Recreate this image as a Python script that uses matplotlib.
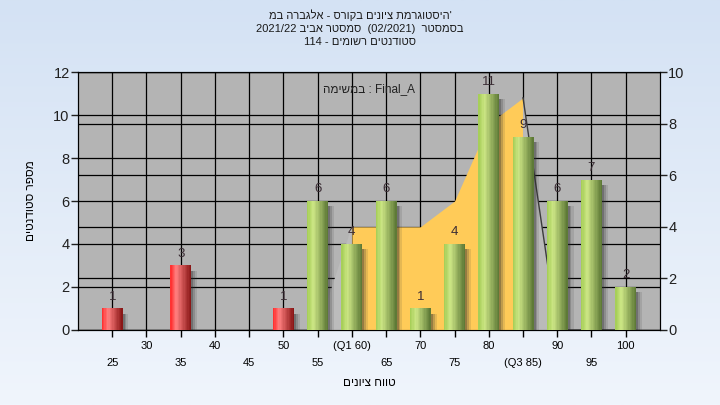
import matplotlib
matplotlib.use("Agg")
import matplotlib.pyplot as plt
import numpy as np

plt.rcParams['font.family'] = ['Liberation Sans', 'DejaVu Sans']

# grade bins and number of students in each
grades = [25, 30, 35, 40, 45, 50, 55, 60, 65, 70, 75, 80, 85, 90, 95, 100]
counts = [1, 0, 3, 0, 0, 1, 6, 4, 6, 1, 4, 11, 9, 6, 7, 2]
tick_names = ['25', '30', '35', '40', '45', '50', '55', '(Q1 60)', '65', '70',
              '75', '80', '(Q3 85)', '90', '95', '100']
pass_grade = 55

# inter-quartile area (right axis)
iqr_grades = [60, 65, 70, 75, 80, 85]
iqr_vals = [4, 4, 4, 5, 8, 9]
iqr_before = 55
iqr_after = 90
iqr_end = 100


def rev(s):
    # matplotlib has no bidi, so hebrew is written in visual order
    return s[::-1]


title1 = rev("היסטוגרמת ציונים בקורס - אלגברה במ") + "'"
title2 = "2021/22 " + rev("סמסטר אביב") + "  (02/2021)  " + rev("בסמסטר")
title3 = "114 - " + rev("סטודנטים רשומים")
legend_txt = rev("במשימה") + " : Final_A"
ylabel = rev("מספר סטודנטים")
xlabel = rev("טווח ציונים")

fig = plt.figure(figsize=(7.2, 4.05), dpi=100)

# light blue gradient background
bg = fig.add_axes([0, 0, 1, 1], zorder=-10)
grad = np.linspace(0, 1, 256).reshape(-1, 1)
top_c = np.array([212, 226, 244]) / 255
bot_c = np.array([240, 245, 252]) / 255
img = top_c[None, None, :] * (1 - grad[:, :, None]) + bot_c[None, None, :] * grad[:, :, None]
bg.imshow(img, aspect='auto', extent=[0, 1, 0, 1])
bg.axis('off')

ax = fig.add_axes([0.1083, 0.1852, 0.8083, 0.637])
ax.set_facecolor('#b4b4b4')
ax.set_xlim(0, 17)
ax.set_ylim(0, 12)
ax.set_yticks(range(0, 13, 2))
ax.set_axisbelow(True)
ax.grid(True, color='black', linewidth=0.9)
pos = {g: i + 1 for i, g in enumerate(grades)}
ax.set_xticks(list(pos.values()))
ax.set_xticklabels([n if i % 2 else '\n' + n for i, n in enumerate(tick_names)],
                   fontsize=8, linespacing=1.9)
ax.tick_params(axis='x', length=5, width=1, color='black', pad=3)
ax.tick_params(axis='y', length=5, width=1, labelsize=10.5, pad=1, colors='#202020')
for s in ax.spines.values():
    s.set_color('black')
ax.set_ylabel(ylabel, fontsize=8.5, labelpad=12)
ax.set_xlabel(xlabel, fontsize=8.5, labelpad=6)

ax2 = ax.twinx()
ax2.set_ylim(0, 10)
ax2.set_yticks(range(0, 11, 2))
ax2.tick_params(axis='y', length=5, width=1, labelsize=10.5, pad=1, colors='#202020')
ax2.set_axisbelow(True)
ax2.yaxis.grid(True, color='black', linewidth=0.9)
ax2.set_xlim(0, 17)

# inter-quartile area
xs = [pos[g] for g in iqr_grades]
ax2.fill_between(xs, 0, iqr_vals, color='#ffcb58', linewidth=0, zorder=1)
ax2.fill([pos[iqr_before], xs[0], xs[0]], [0, iqr_vals[0], 0],
         color='#bcbcbc', linewidth=0, zorder=1)
ax2.fill([xs[-1], xs[-1], pos[iqr_after]], [0, iqr_vals[-1], 0],
         color='#bababa', linewidth=0, zorder=1)
ax2.plot([xs[-1], pos[iqr_after], pos[iqr_end]], [iqr_vals[-1], 0, 0],
         color='#3c3c3c', linewidth=1, zorder=1.5)

# bars with a cylinder-like gradient, drawn on left scale
red_cols = [(1.0, 0.16, 0.16), (1.0, 0.5, 0.5), (0.52, 0.07, 0.07)]
green_cols = [(0.64, 0.80, 0.33), (0.80, 0.90, 0.52), (0.35, 0.46, 0.20)]


def shade(cols, t):
    if t < 0.3:
        a, b, u = cols[0], cols[1], t / 0.3
    else:
        a, b, u = cols[1], cols[2], (t - 0.3) / 0.7
    return tuple(a[k] * (1 - u) + b[k] * u for k in range(3))


w = 0.61
n = 16
for g, c in zip(grades, counts):
    if c == 0:
        continue
    x = pos[g]
    cols = red_cols if g < pass_grade else green_cols
    # soft shadow on the right side
    for sw, sa in [(0.06, 0.3), (0.11, 0.2), (0.17, 0.12)]:
        ax2.bar(x + w / 2, c - 0.25, width=sw, bottom=0, align='edge',
                color='#303030', alpha=sa, linewidth=0, zorder=2, transform=ax.transData)
    for k in range(n):
        ax2.bar(x - w / 2 + k * w / n, c, width=w / n + 0.003, align='edge',
                color=shade(cols, (k + 0.5) / n), linewidth=0, antialiased=False,
                zorder=3, transform=ax.transData)
    ax2.text(x, c + 0.55, str(c), ha='center', va='center', fontsize=9.5,
             color='#3a2c34', zorder=4, transform=ax.transData)

ax2.text(0.5, 0.935, legend_txt, transform=ax2.transAxes, ha='center', va='center',
         fontsize=8.5, color='#222222')

fig.text(0.5, 0.962, title1, ha='center', va='center', fontsize=8, color='#1a1a1a')
fig.text(0.5, 0.929, title2, ha='center', va='center', fontsize=8, color='#1a1a1a')
fig.text(0.5, 0.897, title3, ha='center', va='center', fontsize=8, color='#1a1a1a')

fig.savefig('out.png', dpi=100)
